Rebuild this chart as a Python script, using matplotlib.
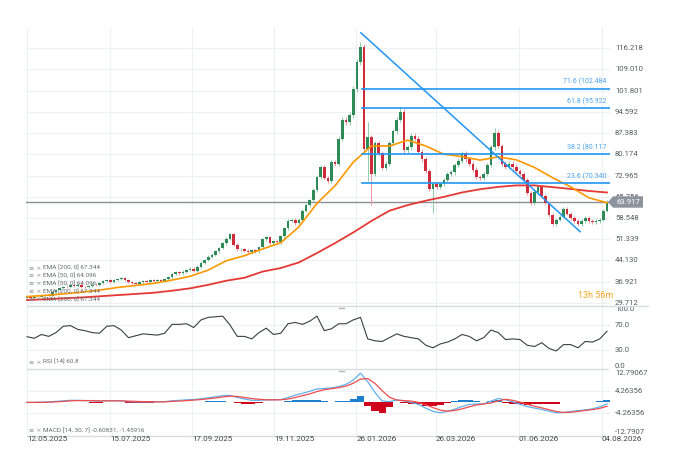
import matplotlib.pyplot as plt
from matplotlib.patches import Polygon
import numpy as np

plt.rcParams['font.family'] = ['Roboto', 'DejaVu Sans']

W, H = 687, 467

# candle closes (one candle per two trading days), opens are the previous close
closes = [
    31.5, 31.2, 31.8, 31.6, 32.0, 32.4, 32.1, 33.2, 33.9, 34.7,
    35.2, 34.9, 35.8, 35.5, 35.9, 35.2, 35.0, 35.4, 35.9, 35.6,
    36.4, 37.0, 37.4, 36.9, 37.3, 37.9, 38.1, 37.5, 36.7, 36.3,
    36.0, 36.6, 37.1, 36.8, 37.3, 37.0, 37.4, 37.2, 37.9, 38.3,
    39.4, 40.0, 39.7, 40.3, 40.9, 41.3, 40.5, 42.0, 43.3, 44.2,
    45.4, 46.1, 47.2, 48.3, 49.9, 51.4, 53.0, 49.5, 47.9, 48.0,
    47.4, 46.9, 47.6, 47.2, 48.6, 51.3, 52.0, 49.9, 50.6, 50.2,
    52.3, 55.0, 57.6, 57.9, 56.8, 57.8, 61.0, 63.0, 64.5, 68.0,
    72.5, 75.8, 72.0, 71.0, 77.5, 77.0, 85.5, 92.0, 91.0, 93.5,
    102.5, 111.5, 116.5, 82.0, 86.0, 73.5, 84.0, 80.5, 75.5, 77.0,
    84.0, 88.0, 92.0, 94.5, 81.5, 82.5, 86.5, 85.5, 81.0, 78.5,
    74.5, 68.5, 70.0, 69.0, 70.0, 71.5, 73.5, 74.0, 76.5, 78.0,
    80.5, 78.5, 77.0, 75.0, 72.5, 72.0, 73.5, 76.5, 82.5, 87.5,
    83.0, 77.0, 76.0, 77.0, 76.0, 74.5, 73.5, 71.5, 67.0, 63.5,
    67.5, 69.0, 66.0, 63.5, 59.5, 56.5, 58.0, 59.0, 61.5, 60.0,
    58.5, 57.5, 56.5, 57.5, 58.5, 57.5, 57.0, 57.5, 58.0, 61.0,
    63.917,
]
first_open = 31.3
wick_lows = {94: 71.0, 95: 62.9, 112: 60.3}
wick_highs = {92: 118.5, 94: 91.0, 103: 96.4, 129: 89.0}
wick_pct = 0.01

# EMA values, one every 5 candles
ema50 = [31.8, 32.2, 32.7, 33.3, 34.0, 34.9, 35.6, 36.3, 37.4, 38.7,
         40.8, 44.0, 45.7, 48.0, 50.1, 55.5, 63.5, 69.5, 77.5, 83.0,
         83.0, 85.0, 83.0, 80.2, 79.4, 78.2, 79.3, 78.3, 75.7, 72.2,
         69.1, 65.4, 63.7]
ema200 = [30.6, 30.9, 31.2, 31.5, 31.9, 32.3, 32.7, 33.1, 33.8, 34.6,
          35.8, 37.2, 38.2, 40.3, 41.5, 43.4, 46.6, 50.0, 53.6, 57.5,
          61.0, 62.9, 64.4, 65.7, 67.2, 68.3, 69.1, 69.6, 69.6, 69.0,
          68.4, 67.7, 67.2]

# indicator values, one every 2 candles
rsi = [51.5, 49, 55, 52, 58, 68, 69, 63, 61, 58,
       57, 68, 69, 62, 50, 53, 56, 55, 54, 57,
       71, 71, 72, 66, 78, 82, 83, 84, 70, 52,
       52, 48, 58, 65, 55, 57, 72, 74, 71, 76,
       84, 61, 64, 72, 72, 78, 82, 48, 45, 44,
       50, 56, 52, 50, 48, 38, 34, 40, 43, 48,
       55, 52, 45, 50, 62, 58, 47, 48, 47, 38,
       36, 42, 33, 29, 39, 39, 34, 44, 43, 48,
       60]
macd = [0.0, 0.0, 0.1, 0.2, 0.4, 0.6, 0.8, 0.8, 0.7, 0.6,
        0.5, 0.6, 0.7, 0.6, 0.3, 0.2, 0.2, 0.2, 0.2, 0.3,
        0.6, 0.8, 1.0, 1.1, 1.4, 1.8, 2.2, 2.6, 2.7, 1.9,
        1.3, 0.8, 0.8, 1.0, 1.0, 1.1, 1.9, 2.8, 3.5, 4.3,
        5.2, 5.4, 5.6, 6.1, 7.0, 8.6, 11.3, 8.0, 3.8, 0.5,
        0.3, 0.9, 0.6, 0.0, -0.8, -2.2, -3.5, -4.0, -3.5, -2.6,
        -1.6, -0.8, -0.6, -0.5, 0.5, 1.5, 1.0, 0.2, -0.7, -1.6,
        -2.2, -2.7, -3.4, -4.0, -3.9, -3.5, -3.2, -2.9, -2.5, -1.7,
        -0.6]
signal = [0.0, 0.0, 0.0, 0.1, 0.2, 0.4, 0.6, 0.7, 0.7, 0.7,
          0.6, 0.6, 0.6, 0.6, 0.5, 0.4, 0.3, 0.3, 0.2, 0.2,
          0.4, 0.5, 0.7, 0.9, 1.1, 1.4, 1.7, 2.1, 2.4, 2.3,
          1.9, 1.5, 1.2, 1.0, 1.0, 1.0, 1.3, 1.9, 2.6, 3.3,
          4.2, 4.9, 5.3, 5.7, 6.3, 7.4, 9.0, 9.2, 7.3, 4.5,
          2.0, 0.9, 0.7, 0.5, 0.0, -0.9, -2.0, -3.0, -3.4, -3.1,
          -2.5, -1.7, -1.0, -0.6, -0.2, 0.6, 1.2, 0.8, 0.1, -0.7,
          -1.5, -2.1, -2.8, -3.5, -3.9, -3.8, -3.5, -3.1, -2.8, -2.3,
          -1.5]

price_ticks = [116.218, 109.010, 101.801, 94.592, 87.383, 80.174, 72.965,
               65.756, 58.548, 51.339, 44.130, 36.921, 29.712]
date_labels = ['12.05.2025', '15.07.2025', '17.09.2025', '19.11.2025',
               '26.01.2026', '26.03.2026', '01.06.2026', '04.08.2026']
date_pos = [0, 22.9, 45.5, 68.1, 90.8, 112.8, 135.7, 158.6]

fib_levels = [102.484, 95.922, 80.117, 70.340]
fib_labels = ['71.6 (102.484', '61.8 (95.922', '38.2 (80.117', '23.6 (70.340']
fib_start = 92.3
trend_x = [92.1, 152.6]
trend_y = [121.5, 53.86]
last_price = 63.917

ema_labels = ['EMA [200, 0] 67.344', 'EMA [50, 0] 64.096', 'EMA [50, 0] 64.096',
              'EMA [200, 0] 67.344', 'EMA [200, 0] 67.344']

GRID = '#eef1f3'
UP, DOWN = '#2e8b57', '#cf2b3a'
BLUE = '#2196f3'
TXT = '#555a5f'


def fx(x):
    return x / W


def fy(y):
    return 1 - y / H


fig = plt.figure(figsize=(6.87, 4.67), dpi=100)
left, width = fx(26), (610 - 26) / W
ax = fig.add_axes([left, fy(306), width, (306 - 28) / H])
ax_rsi = fig.add_axes([left, fy(369.3), width, 63.3 / H])
ax_macd = fig.add_axes([left, fy(435.5), width, 66.2 / H])

xlim = (-0.276, 160.83)
for a in (ax, ax_rsi, ax_macd):
    a.set_xlim(*xlim)
    a.axis('off')
    for p in date_pos:
        a.axvline(p, color=GRID, lw=0.8, zorder=0)

# ---- price panel
ax.set_ylim(28.596, 123.12)
for v in price_ticks:
    ax.axhline(v, color=GRID, lw=0.8, zorder=0)
    ax.text(1.0086, v, f'{v:.3f}', transform=ax.get_yaxis_transform(),
            fontsize=5.6, color=TXT, va='center', ha='left', clip_on=False)

c = np.array(closes)
o = np.concatenate([[first_open], c[:-1]])
idx = np.arange(len(c))
hi = np.maximum(o, c) * (1 + wick_pct)
lo = np.minimum(o, c) * (1 - wick_pct)
for k, v in wick_highs.items():
    hi[k] = v
for k, v in wick_lows.items():
    lo[k] = v
up = c >= o
body = np.where(np.abs(c - o) < 0.15, 0.15, c - o)
ax.vlines(idx, lo, hi, colors=np.where(up, '#8fcca8', '#e89aa3'), lw=0.7, zorder=2)
ax.bar(idx, body, bottom=o, width=0.72, color=np.where(up, UP, DOWN), lw=0, zorder=3)

e_idx = np.arange(len(ema50)) * 5
ax.plot(e_idx, ema200, color='#e53935', lw=1.3, zorder=4)
ax.plot(e_idx, ema50, color='#ff9800', lw=1.2, zorder=4)

ax.axhline(last_price, color='#8a9096', lw=1.0, zorder=1)

for v, lab in zip(fib_levels, fib_labels):
    ax.plot([fib_start, xlim[1]], [v, v], color=BLUE, lw=1.2, zorder=5)
    ax.text(159.8, v + 1.0, lab, fontsize=5, color='#4da3f0', ha='right', va='bottom', zorder=6)
ax.plot(trend_x, trend_y, color=BLUE, lw=1.1, zorder=5)

for k, lab in enumerate(ema_labels):
    y = 268 + k * 7.8
    fig.text(fx(29), fy(y), '≡ ×', fontsize=4.5, color='#8a8f94', va='center', family='DejaVu Sans')
    fig.text(fx(43), fy(y), lab, fontsize=4.6, color='#666b70', va='center')

fig.text(fx(578), fy(295), '13h 56m', fontsize=6.5, color='#f5a623', va='center')

# price tag
tag = Polygon([(fx(608), fy(202)), (fx(613), fy(196.3)), (fx(643), fy(196.3)),
               (fx(643), fy(207.7)), (fx(613), fy(207.7))],
              closed=True, transform=fig.transFigure, facecolor='#8c959d',
              edgecolor='none', zorder=10)
fig.patches.append(tag)
fig.text(fx(628), fy(202), f'{last_price:.3f}', fontsize=5.6, color='white',
         ha='center', va='center', zorder=11)

# ---- RSI panel
ax_rsi.set_ylim(0, 100)
for v in (70, 30):
    ax_rsi.axhline(v, color=GRID, lw=0.8, zorder=0)
r_idx = np.arange(len(rsi)) * 2
ax_rsi.plot(r_idx, rsi, color='#3a3f44', lw=0.8)
for v, lab in [(95, '100.0'), (70, '70.0'), (30, '30.0'), (5, '0.0')]:
    ax_rsi.text(1.0086, v, lab, transform=ax_rsi.get_yaxis_transform(),
                fontsize=5.6, color=TXT, va='center', ha='left', clip_on=False)
fig.text(fx(29), fy(362), '≡ ×', fontsize=4.5, color='#8a8f94', va='center', family='DejaVu Sans')
fig.text(fx(43), fy(362), 'RSI [14] 60.8', fontsize=4.6, color='#666b70', va='center')

# ---- MACD panel
ax_macd.set_ylim(-12.79067, 12.79067)
for v in (4.26356, -4.26356):
    ax_macd.axhline(v, color=GRID, lw=0.8, zorder=0)
m_idx = np.arange(len(macd)) * 2
hist = np.array(macd) - np.array(signal)
ax_macd.bar(m_idx, hist, width=2.0, color=np.where(hist >= 0, '#1e7fcc', '#d0021b'), lw=0, zorder=2)
ax_macd.plot(m_idx, macd, color='#5fb0ec', lw=0.9, zorder=3)
ax_macd.plot(m_idx, signal, color='#ef4b4b', lw=0.9, zorder=3)
for v, lab in [(11.2, '12.79067'), (4.26356, '4.26356'), (-4.26356, '-4.26356'), (-11.4, '-12.7907')]:
    ax_macd.text(1.0086, v, lab, transform=ax_macd.get_yaxis_transform(),
                 fontsize=5.6, color=TXT, va='center', ha='left', clip_on=False)
fig.text(fx(29), fy(431), '≡ ×', fontsize=4.5, color='#8a8f94', va='center', family='DejaVu Sans')
fig.text(fx(43), fy(431), 'MACD [14, 30, 7] -0.60831, -1.45916', fontsize=4.6, color='#666b70', va='center')

# panel separators
for y, x1 in [(306, 648), (369.3, 608), (435.5, 608)]:
    fig.add_artist(plt.Line2D([fx(27), fx(x1)], [fy(y), fy(y)], color='#d8dcdf', lw=1.0))
for y in (306, 369.3):
    fig.add_artist(plt.Line2D([fx(339), fx(344)], [fy(y + 1.5), fy(y + 1.5)], color='#b0b5ba', lw=1.0))

# date axis
for p, lab in zip(date_pos, date_labels):
    fig.text(fx(27 + p * 3.625), fy(439), lab, fontsize=5.8, color='#444', ha='left', va='center')

fig.savefig('out.png', dpi=100)
